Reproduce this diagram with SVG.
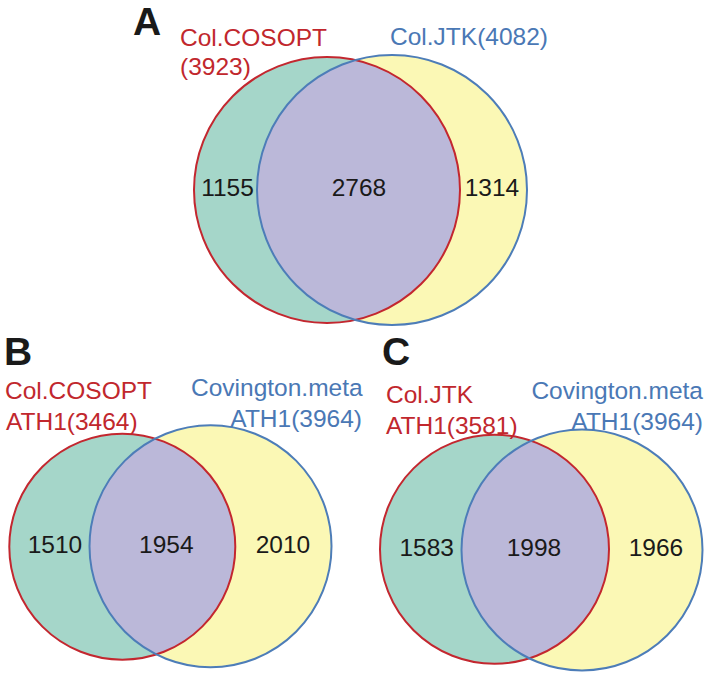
<svg xmlns="http://www.w3.org/2000/svg" width="710" height="676" viewBox="0 0 710 676">
<style>
.t{font-family:"Liberation Sans",Arial,sans-serif;font-size:24.5px}
.red{fill:#c1272d}
.blue{fill:#4a78b5}
.num{fill:#1a1a1a;text-anchor:middle}
.letter{font-family:"Liberation Sans",Arial,sans-serif;font-size:39px;font-weight:bold;fill:#1a1a1a}
.teal{fill:#a5d6c9}
.yel{fill:#fbf8b5}
.pur{fill:#bbb8d9}
.rs{fill:none;stroke:#c3272f;stroke-width:2}
.bs{fill:none;stroke:#4d7db8;stroke-width:2}
</style>
<defs>
<clipPath id="cA"><circle cx="327" cy="190" r="133"/></clipPath>
<clipPath id="cB"><circle cx="122.3" cy="546.7" r="113"/></clipPath>
<clipPath id="cC"><circle cx="494.5" cy="549.3" r="114.5"/></clipPath>
</defs>
<rect width="710" height="676" fill="#ffffff"/>
<g id="venn-A">
<text class="letter" x="133" y="35">A</text>
<circle class="teal" cx="327" cy="190" r="133"/>
<circle class="yel" cx="392" cy="190" r="135"/>
<circle class="pur" cx="392" cy="190" r="135" clip-path="url(#cA)"/>
<circle class="rs" cx="327" cy="190" r="133"/>
<circle class="bs" cx="392" cy="190" r="135"/>
<text class="t red" x="180" y="46">Col.COSOPT</text>
<text class="t red" x="180" y="75">(3923)</text>
<text class="t blue" x="390" y="45">Col.JTK(4082)</text>
<text class="t num" x="227.5" y="196">1155</text>
<text class="t num" x="359" y="196">2768</text>
<text class="t num" x="492" y="196">1314</text>
</g>
<g id="venn-B">
<text class="letter" x="4" y="365">B</text>
<circle class="teal" cx="122.3" cy="546.7" r="113"/>
<circle class="yel" cx="210.5" cy="546.2" r="121"/>
<circle class="pur" cx="210.5" cy="546.2" r="121" clip-path="url(#cB)"/>
<circle class="rs" cx="122.3" cy="546.7" r="113"/>
<circle class="bs" cx="210.5" cy="546.2" r="121"/>
<text class="t red" x="5" y="399">Col.COSOPT</text>
<text class="t red" x="6" y="430">ATH1(3464)</text>
<text class="t blue" x="191" y="396">Covington.meta</text>
<text class="t blue" x="362" y="427" text-anchor="end">ATH1(3964)</text>
<text class="t num" x="55" y="552.5">1510</text>
<text class="t num" x="166.3" y="552.5">1954</text>
<text class="t num" x="283" y="552.5">2010</text>
</g>
<g id="venn-C">
<text class="letter" x="382" y="365">C</text>
<circle class="teal" cx="494.5" cy="549.3" r="114.5"/>
<circle class="yel" cx="582" cy="550" r="120.5"/>
<circle class="pur" cx="582" cy="550" r="120.5" clip-path="url(#cC)"/>
<circle class="rs" cx="494.5" cy="549.3" r="114.5"/>
<circle class="bs" cx="582" cy="550" r="120.5"/>
<text class="t red" x="386" y="403">Col.JTK</text>
<text class="t red" x="386" y="434">ATH1(3581)</text>
<text class="t blue" x="703" y="399" text-anchor="end">Covington.meta</text>
<text class="t blue" x="703" y="430" text-anchor="end">ATH1(3964)</text>
<text class="t num" x="426.7" y="556">1583</text>
<text class="t num" x="534" y="556">1998</text>
<text class="t num" x="656" y="556">1966</text>
</g>
<g id="connectors"/>
</svg>
